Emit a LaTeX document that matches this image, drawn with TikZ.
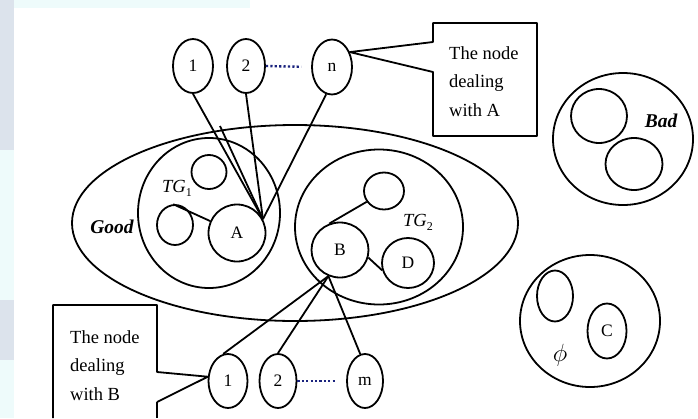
\documentclass[tikz,border=0pt]{standalone}
\usepackage{fontspec}
\setmainfont{Liberation Serif}
\usetikzlibrary{shapes.geometric}
\definecolor{stripcol}{HTML}{DCE3EC}
\definecolor{stripcyan}{HTML}{EEFBFB}
\definecolor{dotcol}{HTML}{1A237E}
\tikzset{
  ln/.style={line width=1.8pt, line join=round},
  ring/.style={ellipse, draw, line width=1.8pt, inner sep=0pt},
  nd/.style={ring, font=\fontsize{17.5}{17.5}\selectfont},
  setlab/.style={font=\fontsize{19.5}{19.5}\selectfont\bfseries\itshape, inner sep=0pt},
  tglab/.style={font=\fontsize{18.5}{18.5}\selectfont, inner sep=0pt},
  calltext/.style={font=\fontsize{18.5}{28.5}\selectfont, align=left, inner sep=0pt, anchor=north west},
  dots/.style={dotcol, line width=2.4pt, dash pattern=on 2.2pt off 2.2pt, shorten >=10pt}
}
\begin{document}
\begin{tikzpicture}[x=1pt,y=-1pt]
\useasboundingbox (0,0) rectangle (698,418);
% background strips
\fill[white] (0,0) rectangle (698,418);
\fill[stripcol] (0,0) rectangle (14,150);
\fill[stripcyan] (0,150) rectangle (14,300);
\fill[stripcol] (0,300) rectangle (14,360);
\fill[stripcyan] (0,360) rectangle (14,418);
\fill[stripcyan] (14,0) rectangle (250,8);

% Good set
\node[ring, minimum width=446pt, minimum height=196pt] (good) at (295,223) {};
\node[setlab] (goodlab) at (112,227) {Good};
% TG1
\node[ring, minimum width=142pt, minimum height=150pt] (tg1) at (209,213) {};
\node[tglab] (tg1lab) at (177,188) {\textit{TG}\raisebox{-4pt}{\fontsize{12}{12}\selectfont 1}};
\node[nd, minimum width=35pt, minimum height=34pt] (s1) at (209,172) {};
\node[nd, minimum width=36pt, minimum height=40pt] (s2) at (175,225) {};
\node[nd, minimum width=57pt, minimum height=57pt] (A) at (237,233) {A};
% TG2
\node[ring, minimum width=168pt, minimum height=155pt] (tg2) at (379,227) {};
\node[tglab] (tg2lab) at (418,222) {\textit{TG}\raisebox{-4pt}{\fontsize{12}{12}\selectfont 2}};
\node[nd, minimum width=40pt, minimum height=37pt] (s3) at (384,191) {};
\node[nd, minimum width=57pt, minimum height=55pt] (B) at (340,250) {B};
\node[nd, minimum width=52pt, minimum height=50pt] (D) at (408,263) {D};

% Bad set
\node[ring, minimum width=140pt, minimum height=132pt] (bad) at (623,139) {};
\node[nd, minimum width=56pt, minimum height=54pt] (b1s) at (599,116) {};
\node[nd, minimum width=57pt, minimum height=52pt] (b2s) at (634,164) {};
\node[setlab] (badlab) at (661,121) {Bad};

% empty set
\node[ring, minimum width=140pt, minimum height=132pt] (emp) at (590,321) {};
\node[nd, minimum width=36pt, minimum height=51pt] (e1) at (555,296) {};
\node[nd, minimum width=39pt, minimum height=55pt] (C) at (607,331) {C};
\node[inner sep=0pt, font=\fontsize{26}{26}\selectfont] (phi) at (560,355) {$\phi$};

% top nodes
\node[nd, minimum width=40pt, minimum height=54pt] (t1) at (193,66) {1};
\node[nd, minimum width=38pt, minimum height=54pt] (t2) at (246,66) {2};
\node[nd, minimum width=40pt, minimum height=55pt] (tn) at (332,67) {n};
\draw[dots] (t2.east) -- (tn.west);

% bottom nodes
\node[nd, minimum width=39pt, minimum height=54pt] (u1) at (228,381) {1};
\node[nd, minimum width=37pt, minimum height=54pt] (u2) at (278,381) {2};
\node[nd, minimum width=36pt, minimum height=54pt] (um) at (365,381) {m};
\draw[dots] (u2.east) -- (um.west);

% connectors to A
\coordinate (Ac) at (A.28);
\coordinate (g1) at (220,126);
\draw[ln] (t1.south) -- (Ac);
\draw[ln] (g1) -- (Ac);
\draw[ln] (t2.south) -- (Ac);
\draw[ln] (tn.258) -- (Ac);
\draw[ln] (s2.95) -- (A.156);

% connectors to B
\coordinate (Bc) at (B.246);
\draw[ln] (Bc) -- (u1.100);
\draw[ln] (Bc) -- (u2.north);
\draw[ln] (Bc) -- (um.100);
\draw[ln] (s3.212) -- (B.112);
\draw[ln] (B.-15) -- (D.196);

% callout A
\draw[ln] (433,42) -- (433,23) -- (537,23) -- (537,136) -- (433,136) -- (433,72) -- (tn.40) -- cycle;
\node[calltext] (ta) at (449,46) {The node\\dealing\\with A};

% callout B
\draw[ln] (157,402) -- (157,418);
\draw[ln] (53,418) -- (53,305) -- (157,305) -- (157,372) -- (u1.168) -- (157,402);
\node[calltext] (tb) at (70,330) {The node\\dealing\\with B};
\end{tikzpicture}
\end{document}
